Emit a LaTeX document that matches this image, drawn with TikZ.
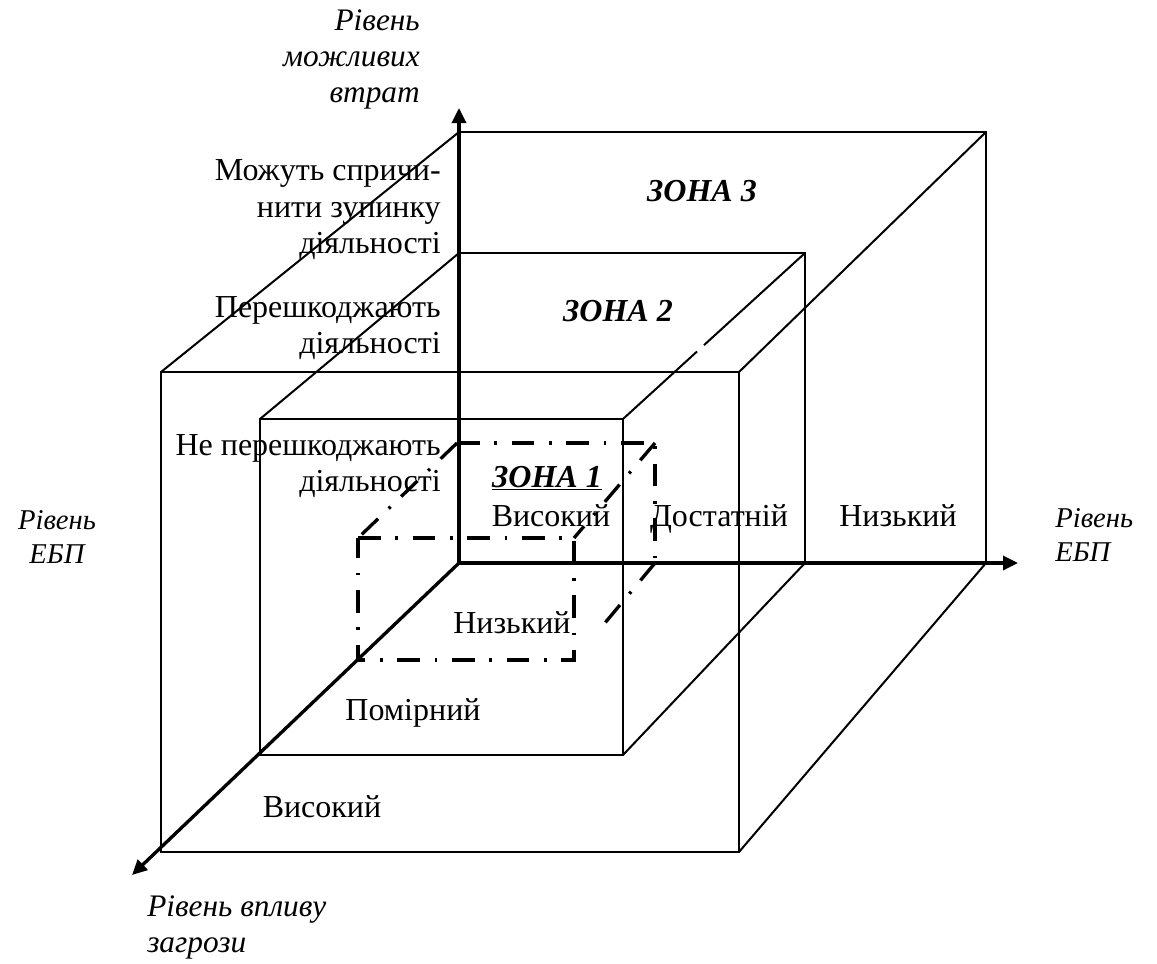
\documentclass[tikz,border=0pt]{standalone}
\usepackage{fontspec}
\setmainfont{Liberation Serif}
\usetikzlibrary{arrows.meta,calc}
\begin{document}
\begin{tikzpicture}[x=0.75pt,y=-0.75pt,
  edge/.style={line width=1.5pt},
  axis/.style={line width=2.5pt,-{Triangle[length=11.25pt,width=10.5pt]}},
  zoneone/.style={line width=2.5pt,dash pattern=on 17pt off 11pt on 2pt off 11pt},
  lbl/.style={inner sep=0pt,font=\fontsize{24}{27.4}\selectfont},
  axlbl/.style={inner sep=0pt,font=\fontsize{23.5}{27}\selectfont\itshape},
  sidelbl/.style={inner sep=0pt,font=\fontsize{21.5}{25.5}\selectfont\itshape},
  zonelbl/.style={inner sep=0pt,font=\fontsize{24}{27.4}\selectfont\bfseries\itshape}]
\useasboundingbox (0,0) rectangle (1157,964);
% origin and axis ends
\coordinate (O) at (459,563);
\coordinate (Ytip) at (459,108);
\coordinate (Xtip) at (1018,563);
\coordinate (Ztip) at (132,875);
% zone 3 cube
\coordinate (A3) at (459,132);
\coordinate (B3) at (986,132);
\coordinate (C3) at (986,563);
\coordinate (D3) at (161,372);
\coordinate (E3) at (739,372);
\coordinate (F3) at (739,852);
\coordinate (G3) at (161,852);
% zone 2 cube
\coordinate (A2) at (459,253);
\coordinate (B2) at (805,253);
\coordinate (C2) at (805,563);
\coordinate (D2) at (260,419);
\coordinate (E2) at (623,419);
\coordinate (F2) at (623,755);
\coordinate (G2) at (260,755);
% zone 1 cube
\coordinate (A1) at (457,443);
\coordinate (B1) at (655,443);
\coordinate (C1) at (655,563);
\coordinate (D1) at (358,538);
\coordinate (E1) at (574,538);
\coordinate (F1) at (574,660);
\coordinate (G1) at (358,660);

% zone 3
\draw[edge] (A3) -- (B3) -- (C3);
\draw[edge] (D3) -- (E3) -- (F3) -- (G3) -- cycle;
\draw[edge] (A3) -- (D3);
\draw[edge] (B3) -- (E3);
\draw[edge] (C3) -- (F3);
% zone 2
\draw[edge] (A2) -- (B2) -- (C2);
\draw[edge] (D2) -- (E2) -- (F2) -- (G2) -- cycle;
\draw[edge] (A2) -- (D2);
\draw[edge] (B2) -- ($(B2)!0.555!(E2)$);
\draw[edge] ($(B2)!0.593!(E2)$) -- (E2);
\draw[edge] (C2) -- (F2);
% zone 1
\draw[zoneone] (A1) -- (B1) -- (C1);
\draw[zoneone] (D1) -- (E1) -- (F1) -- (G1) -- cycle;
\draw[zoneone] (A1) -- (D1);
\draw[zoneone] (B1) -- (E1);
\draw[zoneone] (C1) -- ($(C1)!0.7!(F1)$);
% axes
\draw[axis] (O) -- (Ytip);
\draw[axis] (O) -- (Xtip);
\draw[axis] (O) -- (Ztip);

% axis labels
\node[axlbl,align=right,anchor=north east] (ylab) at (420,9.5) {Рівень\\можливих\\втрат};
\node[sidelbl,align=center,anchor=north] (xlabl) at (57,510) {Рівень\\ЕБП};
\node[sidelbl,align=left,anchor=north west] (xlabr) at (1055,508) {Рівень\\ЕБП};
\node[axlbl,align=left,anchor=north west] (zlab) at (147,895) {Рівень впливу\\загрози};

% loss levels
\node[lbl,align=right,anchor=north east] (loss3) at (441,159.3) {Можуть спричи-\\нити зупинку\\діяльності};
\node[lbl,align=right,anchor=north east] (loss2) at (441,296) {Перешкоджають\\діяльності};
\node[lbl,align=right,anchor=north east] (loss1) at (441,434) {Не перешкоджають\\діяльності};

% zones
\node[zonelbl,anchor=base] (z3) at (702,201) {ЗОНА 3};
\node[zonelbl,anchor=base] (z2) at (618,321) {ЗОНА 2};
\node[zonelbl,anchor=base] (z1) at (547,487) {\underline{ЗОНА 1}};

% EBP levels
\node[lbl,anchor=base] (e1) at (551,526) {Високий};
\node[lbl,anchor=base] (e2) at (719,526) {Достатній};
\node[lbl,anchor=base] (e3) at (898,526) {Низький};

% threat levels
\node[lbl,anchor=base] (t1) at (512,633) {Низький};
\node[lbl,anchor=base] (t2) at (413,720) {Помірний};
\node[lbl,anchor=base] (t3) at (322,817) {Високий};
\end{tikzpicture}
\end{document}
